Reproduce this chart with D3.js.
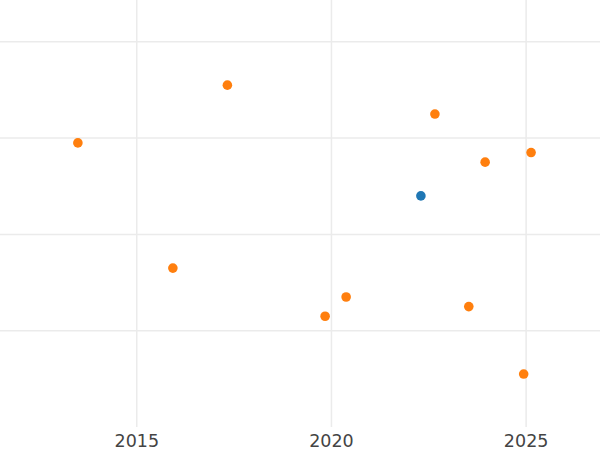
<!DOCTYPE html>
<html>
<head>
<meta charset="utf-8">
<script src="https://cdn.jsdelivr.net/npm/d3@7"></script>
<style>
  html, body { margin: 0; padding: 0; background: #fff; }
  svg { display: block; }
</style>
</head>
<body>
<div id="main"></div>
<script>
// data
const orangeYears = [2013.5, 2017.34, 2022.67, 2023.96, 2025.14, 2015.94, 2020.39, 2019.85, 2023.54, 2024.95];
const orangeValues = [29.5, 35.5, 32.5, 27.5, 28.5, 16.5, 13.5, 11.5, 12.5, 5.5];
const blueYears = [2022.31];
const blueValues = [24];
const xTicks = [2015, 2020, 2025];
const yTicks = [10, 20, 30, 40];

const
  svgWidth = 600,
  svgHeight = 450,
  plotBottom = 427;

let svg = d3.select('div#main')
  .append('svg')
  .attr('width', svgWidth)
  .attr('height', svgHeight);

const x = d3.scaleLinear().domain([2011.5, 2026.91]).range([0, svgWidth]);
const y = d3.scaleLinear().domain([0, 44.34]).range([plotBottom, 0]);

// horizontal grid
svg.append('g')
  .selectAll('line')
  .data(yTicks)
  .enter()
  .append('line')
    .attr('x1', 0)
    .attr('x2', svgWidth)
    .attr('y1', (d) => y(d))
    .attr('y2', (d) => y(d))
    .attr('stroke', '#ebebeb')
    .attr('stroke-width', 1.5);

// x axis, ticks stretched up as grid
let xAxis = svg.append('g')
  .attr('transform', `translate(0,${plotBottom})`)
  .call(d3.axisBottom(x)
    .tickValues(xTicks)
    .tickFormat(d3.format('d'))
    .tickSizeInner(-plotBottom)
    .tickSizeOuter(0)
    .tickPadding(8));

xAxis.select('.domain').remove();
xAxis.selectAll('.tick line')
  .attr('stroke', '#ebebeb')
  .attr('stroke-width', 1.5);
xAxis.selectAll('.tick text')
  .attr('fill', '#444')
  .style('font-family', '"DejaVu Sans", sans-serif')
  .style('font-size', '17.5px');

// orange points
svg.append('g')
  .selectAll('circle')
  .data(orangeYears)
  .enter()
  .append('circle')
    .attr('cx', (d) => x(d))
    .attr('cy', (d, i) => y(orangeValues[i]))
    .attr('r', 4.8)
    .attr('fill', '#ff7f0e');

// blue point
svg.append('g')
  .selectAll('circle')
  .data(blueYears)
  .enter()
  .append('circle')
    .attr('cx', (d) => x(d))
    .attr('cy', (d, i) => y(blueValues[i]))
    .attr('r', 4.8)
    .attr('fill', '#1f77b4');
</script>
</body>
</html>
